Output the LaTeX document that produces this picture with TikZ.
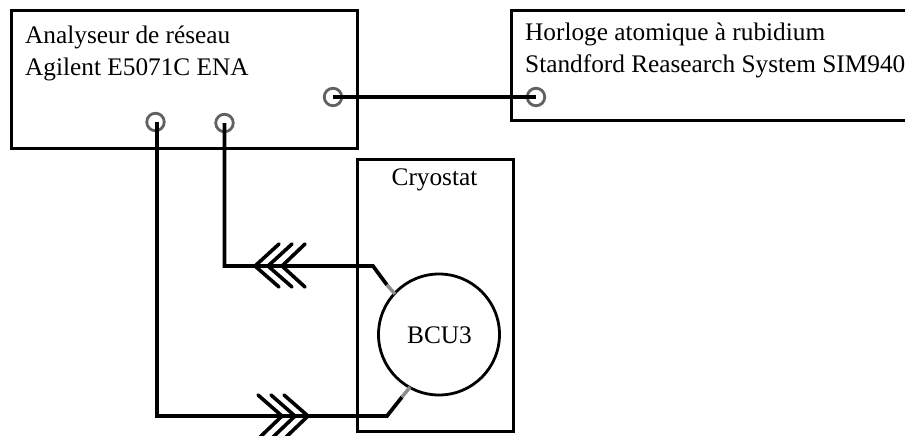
\documentclass[tikz,border=0pt]{standalone}
\usepackage{fontspec}
\setmainfont{Liberation Serif}
\begin{document}
\begin{tikzpicture}[x=1pt,y=-1pt,
  boxline/.style={draw=black,line width=3pt},
  port/.style={circle,draw=black!62,line width=2.8pt,minimum size=17.5pt,inner sep=0pt},
  wire/.style={draw=black,line width=3.7pt,line join=miter},
  tail/.style={draw=black!45,line width=3.5pt},
  feather/.style={draw=black,line width=3.6pt,line cap=round,line join=miter},
  lbl/.style={font=\fontsize{25.3pt}{32pt}\selectfont,inner sep=0pt,anchor=base west,align=left}]
\useasboundingbox (0,0) rectangle (905,436);
\path[boxline] (11,11) rectangle (357,148);
\path[boxline] (511,11) rectangle (910,120);
\path[boxline] (357,159) rectangle (513,431);
\node[lbl] (ana) at (25,44) {Analyseur de réseau};
\node[lbl] (agi) at (25,76) {Agilent E5071C ENA};
\node[lbl] (hor) at (525,41) {Horloge atomique à rubidium};
\node[lbl] (sta) at (525,73) {Standford Reasearch System SIM940};
\node[lbl,anchor=base] (cry) at (434.5,185) {Cryostat};
\node[circle,draw=black,line width=2.8pt,minimum size=121pt,inner sep=0pt] (bcu) at (439,334.5) {};
\node[lbl,anchor=base] (bcutxt) at (439.5,343) {BCU3};
\node[port] (p1) at (155.5,122) {};
\node[port] (p2) at (224.5,123) {};
\node[port] (p3) at (333,97) {};
\node[port] (p4) at (536,97) {};
\coordinate (p1in) at (157,122);
\coordinate (a1) at (157,416);
\coordinate (a2) at (387,416);
\coordinate (a3) at (402,397);
\coordinate (a4) at (410,387);
\coordinate (b1) at (224.5,266);
\coordinate (b2) at (373,266);
\coordinate (b3) at (387,285);
\coordinate (b4) at (395,294);
\path[wire] (p3.center) -- (p4.center);
\path[wire] (p1in) -- (a1) -- (a2) -- (a3);
\path[tail] (a3) -- (a4);
\path[wire] (p2.center) -- (b1) -- (b2) -- (b3);
\path[tail] (b3) -- (b4);
% chevrons on the lower line
\path[feather] (284,395) -- (308,416) -- (284,439);
\path[feather] (271,395) -- (295,416) -- (271,439);
\path[feather] (258,395) -- (282,416) -- (258,439);
% chevrons on the upper line
\path[feather] (279,244) -- (255,266) -- (279,287);
\path[feather] (292,244) -- (268,266) -- (292,287);
\path[feather] (305,244) -- (282,266) -- (305,287);
\end{tikzpicture}
\end{document}
